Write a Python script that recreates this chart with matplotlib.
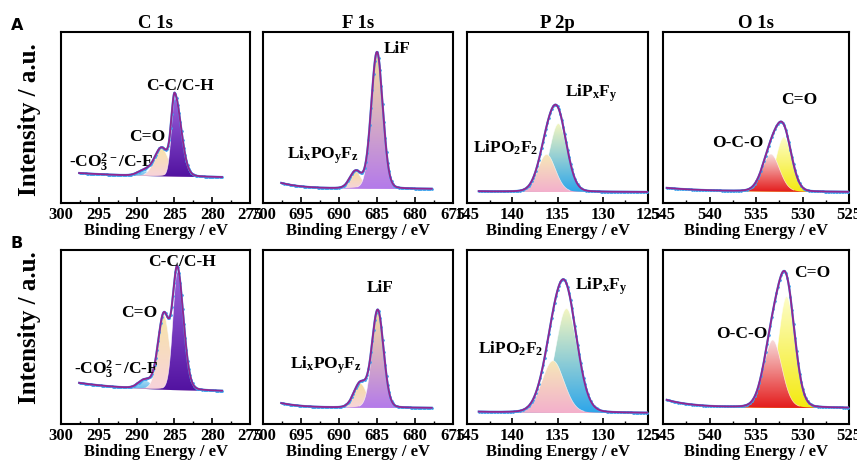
import numpy as np
import matplotlib
matplotlib.use('Agg')
import matplotlib.pyplot as plt
from matplotlib.colors import LinearSegmentedColormap
from matplotlib.ticker import MultipleLocator

plt.rcParams['font.family'] = 'Liberation Serif'
plt.rcParams['font.weight'] = 'bold'
plt.rcParams['mathtext.fontset'] = 'custom'
plt.rcParams['mathtext.rm'] = 'Liberation Serif:bold'
plt.rcParams['mathtext.it'] = 'Liberation Serif:bold'
plt.rcParams['mathtext.bf'] = 'Liberation Serif:bold'

# ── 축 설정 ───────────────────────────────────────────────────────────
TITLES = ['C 1s', 'F 1s', 'P 2p', 'O 1s']
XLIMS  = [(300, 275), (700, 675), (145, 125), (545, 525)]
XTICKS = [[300, 295, 290, 285, 280, 275],
          [700, 695, 690, 685, 680, 675],
          [145, 140, 135, 130, 125],
          [545, 540, 535, 530, 525]]
SPANS  = [(297.6, 278.7), (697.6, 677.8), (143.7, 125.1), (544.6, 525.1)]

# ── 피크 파라미터 (center eV, height, FWHM eV, low-BE tail ratio) ──────
# C 1s : -CO3/C-F, C=O, C-C/C-H
C1S_CENTER_A = [289.0, 286.7, 284.95]
C1S_HEIGHT_A = [0.03, 0.165, 0.46]
C1S_FWHM_A   = [2.0, 2.2, 1.05]
C1S_TAIL_A   = [1.0, 1.0, 1.9]
C1S_BASE_A   = [0.175, 0.146, 10.0]   # left, right, decay
C1S_CENTER_B = [288.9, 286.4, 284.6]
C1S_HEIGHT_B = [0.05, 0.43, 0.68]
C1S_FWHM_B   = [2.0, 1.8, 1.4]
C1S_TAIL_B   = [1.0, 1.0, 1.35]
C1S_BASE_B   = [0.236, 0.184, 8.0]

# F 1s : LixPOyFz, LiF
F1S_CENTER_A = [687.8, 685.0]
F1S_HEIGHT_A = [0.10, 0.80]
F1S_FWHM_A   = [1.8, 1.8]
F1S_TAIL_A   = [1.0, 1.0]
F1S_BASE_A   = [0.117, 0.082, 3.0]
F1S_CENTER_B = [687.2, 684.9]
F1S_HEIGHT_B = [0.14, 0.56]
F1S_FWHM_B   = [2.0, 1.8]
F1S_TAIL_B   = [1.0, 1.0]
F1S_BASE_B   = [0.120, 0.092, 3.0]

# P 2p : LiPxFy, LiPO2F2
P2P_CENTER_A = [134.9, 136.2]
P2P_HEIGHT_A = [0.40, 0.22]
P2P_FWHM_A   = [2.3, 2.3]
P2P_TAIL_A   = [1.0, 1.0]
P2P_BASE_A   = [0.068, 0.064, 3.0]
P2P_CENTER_B = [134.0, 135.5]
P2P_HEIGHT_B = [0.60, 0.30]
P2P_FWHM_B   = [2.9, 2.9]
P2P_TAIL_B   = [1.0, 1.0]
P2P_BASE_B   = [0.069, 0.063, 3.0]

# O 1s : C=O, O-C-O
O1S_CENTER_A = [532.0, 533.4]
O1S_HEIGHT_A = [0.32, 0.22]
O1S_FWHM_A   = [2.0, 2.2]
O1S_TAIL_A   = [1.0, 1.0]
O1S_BASE_A   = [0.088, 0.064, 5.0]
O1S_CENTER_B = [531.7, 533.2]
O1S_HEIGHT_B = [0.64, 0.39]
O1S_FWHM_B   = [2.1, 2.3]
O1S_TAIL_B   = [1.0, 1.0]
O1S_BASE_B   = [0.138, 0.092, 3.0]

# ── 색상 (top, bottom) ────────────────────────────────────────────────
COLORS = [
    [('#a8dcf5', '#5ab4ea'), ('#f7e4a8', '#f8d3dc'), ('#9a62dc', '#5212a0')],
    [('#f6dca0', '#f6d4dc'), ('#f6dca0', '#b47aea')],
    [('#f4f6c0', '#2ea6ea'), ('#f6e8b8', '#f3b0cc')],
    [('#fdfdc8', '#f4ea10'), ('#f8dcdc', '#e41c1c')],
]
ENV_COLOR = '#922590'
RAW_COLOR = '#41a5ee'

# ── 라벨 ──────────────────────────────────────────────────────────────
LABELS = [
    [r'-CO$_3^{2-}$/C-F', 'C=O', 'C-C/C-H'],
    [r'Li$_x$PO$_y$F$_z$', 'LiF'],
    [r'LiP$_x$F$_y$', r'LiPO$_2$F$_2$'],
    ['C=O', 'O-C-O'],
]
LABEL_POS_A = [
    [(293.4, 0.234), (288.6, 0.386), (284.3, 0.684)],
    [(692.1, 0.28), (682.4, 0.90)],
    [(131.3, 0.643), (140.7, 0.32)],
    [(530.3, 0.60), (537.0, 0.35)],
]
LABEL_POS_B = [
    [(292.7, 0.31), (289.7, 0.64), (284.0, 0.93)],
    [(691.7, 0.34), (684.6, 0.78)],
    [(130.2, 0.79), (140.2, 0.43)],
    [(529.0, 0.87), (536.5, 0.52)],
]

ROW_A = [(C1S_CENTER_A, C1S_HEIGHT_A, C1S_FWHM_A, C1S_TAIL_A, C1S_BASE_A),
         (F1S_CENTER_A, F1S_HEIGHT_A, F1S_FWHM_A, F1S_TAIL_A, F1S_BASE_A),
         (P2P_CENTER_A, P2P_HEIGHT_A, P2P_FWHM_A, P2P_TAIL_A, P2P_BASE_A),
         (O1S_CENTER_A, O1S_HEIGHT_A, O1S_FWHM_A, O1S_TAIL_A, O1S_BASE_A)]
ROW_B = [(C1S_CENTER_B, C1S_HEIGHT_B, C1S_FWHM_B, C1S_TAIL_B, C1S_BASE_B),
         (F1S_CENTER_B, F1S_HEIGHT_B, F1S_FWHM_B, F1S_TAIL_B, F1S_BASE_B),
         (P2P_CENTER_B, P2P_HEIGHT_B, P2P_FWHM_B, P2P_TAIL_B, P2P_BASE_B),
         (O1S_CENTER_B, O1S_HEIGHT_B, O1S_FWHM_B, O1S_TAIL_B, O1S_BASE_B)]


def peak(x, c, h, w, tail, eta=0.1):
    # 저결합에너지 쪽(x < c)으로 tail 배 넓은 비대칭 pseudo-Voigt
    ww = np.where(x < c, w * tail, w)
    s = ww / 2.3548
    g = np.exp(-0.5 * ((x - c) / s) ** 2)
    l = 1.0 / (1.0 + ((x - c) / (ww / 2)) ** 2)
    return h * ((1 - eta) * g + eta * l)


def grad_fill(ax, x, lo, hi, ctop, cbot, z):
    coll = ax.fill_between(x, lo, hi, facecolor='none', edgecolor='none', zorder=z)
    cmap = LinearSegmentedColormap.from_list('g', [cbot, ctop])
    im = ax.imshow(np.linspace(0, 1, 128)[:, None], cmap=cmap, origin='lower',
                   aspect='auto', interpolation='bilinear',
                   extent=[x.min(), x.max(), lo.min(), hi.max()], zorder=z)
    im.set_clip_path(coll.get_paths()[0], transform=ax.transData)
    edge = np.ma.masked_where(hi - lo < 0.01, hi)
    ax.plot(x, edge, color='white', lw=0.5, alpha=0.7, zorder=z + 0.1)


def draw_panel(ax, col, params, label_pos):
    centers, heights, fwhms, tails, base = params
    xs, xe = SPANS[col]
    x = np.linspace(xe, xs, 700)
    bg = base[1] + (base[0] - base[1]) * np.exp(-(xs - x) / base[2])
    comps = [peak(x, c, h, w, t) for c, h, w, t in zip(centers, heights, fwhms, tails)]
    env = bg + np.sum(comps, axis=0)

    for k, comp in enumerate(comps):
        ctop, cbot = COLORS[col][k]
        grad_fill(ax, x, bg, bg + comp, ctop, cbot, 2 + k)

    ax.plot(x, env, color=RAW_COLOR, lw=1.6, zorder=8)
    ax.plot(x[::6], env[::6], '.', color=RAW_COLOR, ms=2, zorder=8)
    ax.plot(x, env, color=ENV_COLOR, lw=1.3, zorder=9)

    for txt, (lx, ly) in zip(LABELS[col], label_pos):
        ax.text(lx, ly, txt, ha='center', va='center', fontsize=12.5,
                fontweight='bold', zorder=10)

    ax.set_xlim(XLIMS[col])
    ax.set_ylim(0, 1)
    ax.set_xticks(XTICKS[col])
    ax.xaxis.set_minor_locator(MultipleLocator(2.5))
    ax.set_yticks([])
    ax.tick_params(axis='x', which='major', direction='in', length=4, width=1.2,
                   labelsize=12, pad=3)
    ax.tick_params(axis='x', which='minor', direction='in', length=2, width=1.0)
    for sp in ax.spines.values():
        sp.set_linewidth(1.5)
    ax.set_xlabel('Binding Energy / eV', fontsize=12, fontweight='bold', labelpad=0)


fig = plt.figure(figsize=(8.57, 4.67), dpi=100)
W, H = 857.0, 467.0
col_px = [(61, 250), (263, 453), (467, 648), (663, 849)]
row_px = [(32, 203), (250, 424)]

for r, (rows, lpos) in enumerate([(ROW_A, LABEL_POS_A), (ROW_B, LABEL_POS_B)]):
    t, b = row_px[r]
    for c in range(4):
        l, rr = col_px[c]
        ax = fig.add_axes([l / W, 1 - b / H, (rr - l) / W, (b - t) / H])
        draw_panel(ax, c, rows[c], lpos[c])
        if r == 0:
            ax.set_title(TITLES[c], fontsize=13.5, fontweight='bold', pad=2)

for yc in [120, 328]:
    fig.text(30 / W, 1 - yc / H, 'Intensity / a.u.', rotation=90, ha='center',
             va='center', fontsize=18, fontweight='bold')
fig.text(17 / W, 1 - 25 / H, 'A', family='DejaVu Sans', fontweight='bold',
         fontsize=11.5, ha='center', va='center')
fig.text(17 / W, 1 - 244 / H, 'B', family='DejaVu Sans', fontweight='bold',
         fontsize=11.5, ha='center', va='center')

fig.savefig('out.png', dpi=100, facecolor='white')
plt.close(fig)
